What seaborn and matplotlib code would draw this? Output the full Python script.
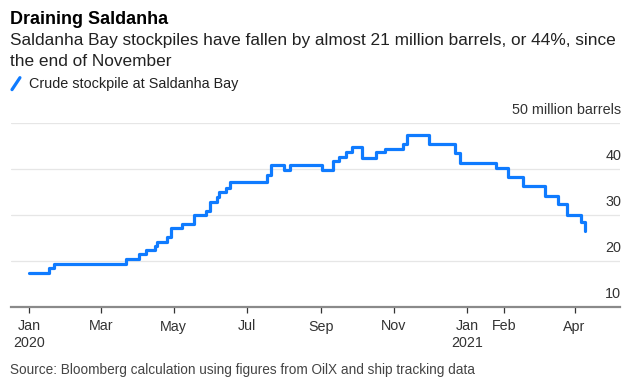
import pandas as pd
import numpy as np
import matplotlib
matplotlib.use("Agg")
import matplotlib.pyplot as plt
import matplotlib.transforms as mtransforms
from matplotlib.lines import Line2D
from matplotlib.legend_handler import HandlerBase
import seaborn as sns

# Stockpile steps (million barrels)
dates = ["2020-01-01", "2020-01-18", "2020-01-22", "2020-03-22", "2020-04-02",
         "2020-04-08", "2020-04-15", "2020-04-17", "2020-04-25", "2020-04-29",
         "2020-05-08", "2020-05-18", "2020-05-28", "2020-05-31", "2020-06-06",
         "2020-06-08", "2020-06-14", "2020-06-17", "2020-07-18", "2020-07-21",
         "2020-08-01", "2020-08-06", "2020-09-02", "2020-09-11", "2020-09-16",
         "2020-09-22", "2020-09-27", "2020-10-05", "2020-10-17", "2020-10-25",
         "2020-11-09", "2020-11-12", "2020-11-30", "2020-12-22", "2020-12-26",
         "2021-01-25", "2021-02-04", "2021-02-17", "2021-03-07", "2021-03-18",
         "2021-03-26", "2021-04-06", "2021-04-10"]
stockpile = [17.5, 18.5, 19.4, 20.4, 21.5,
             22.3, 23.3, 24.2, 25.3, 27.1,
             28.1, 30.1, 30.9, 32.9, 34.0,
             35.1, 35.9, 37.2, 38.7, 40.9,
             39.8, 40.9, 39.8, 41.7, 42.7,
             43.8, 44.7, 42.5, 43.6, 44.3,
             45.4, 47.4, 45.4, 43.4, 41.2,
             40.3, 38.3, 36.2, 34.2, 32.3,
             30.0, 28.5, 26.5]

tick_dates = ["2020-01-01", "2020-03-01", "2020-05-01", "2020-07-01", "2020-09-01",
              "2020-11-01", "2021-01-01", "2021-02-01", "2021-04-01"]
tick_labels = ["Jan\n2020", "Mar", "May", "Jul", "Sep", "Nov", "Jan\n2021", "Feb", "Apr"]
y_ticks = [10, 20, 30, 40, 50]
y_labels = ["10", "20", "30", "40", "50 million barrels"]

df = pd.DataFrame({"date": pd.to_datetime(dates), "stockpile": stockpile})

sns.set_theme(style="white")
plt.rcParams["font.family"] = ["Liberation Sans", "DejaVu Sans"]

W, H = 643, 387
fig = plt.figure(figsize=(W / 100, H / 100), dpi=100)
ax = fig.add_axes([11 / W, 1 - 307 / H, 609 / W, 184 / H])

blue = "#0f7bff"
sns.lineplot(data=df, x="date", y="stockpile", ax=ax, color=blue, linewidth=2.3,
             drawstyle="steps-post", label="Crude stockpile at Saldanha Bay",
             legend=False)

ax.set_xlim(pd.Timestamp("2019-12-17"), pd.Timestamp("2021-05-09"))
ax.set_ylim(10, 50)
ax.set_xlabel("")
ax.set_ylabel("")

# gridlines
for v in y_ticks[1:]:
    ax.axhline(v, color="#e6e6e6", linewidth=0.9, zorder=0)

for s in ["top", "left", "right"]:
    ax.spines[s].set_visible(False)
ax.spines["bottom"].set_color("#8a8a8a")
ax.spines["bottom"].set_linewidth(1.6)

ax.set_xticks(pd.to_datetime(tick_dates))
ax.set_xticklabels(tick_labels, fontsize=10.3, color="#333333", linespacing=1.25)
ax.tick_params(axis="x", direction="out", length=4, width=0.9, color="#333333", pad=5,
               bottom=True)
ax.set_yticks([])

# y labels sit above their gridlines on the right
trans = mtransforms.blended_transform_factory(ax.transAxes, ax.transData)
trans = mtransforms.offset_copy(trans, fig=fig, x=1, y=9, units="dots")
for v, lab in zip(y_ticks, y_labels):
    ax.text(1.0, v, lab, transform=trans, ha="right", va="baseline",
            fontsize=10.4, color="#333333")

# titles
fig.text(10 / W, 1 - 23.5 / H, "Draining Saldanha", fontsize=13, fontweight="bold",
         color="#000000", va="baseline")
fig.text(10 / W, 1 - 44.5 / H,
         "Saldanha Bay stockpiles have fallen by almost 21 million barrels, or 44%, since",
         fontsize=12.4, color="#222222", va="baseline")
fig.text(10 / W, 1 - 66 / H, "the end of November",
         fontsize=12.4, color="#222222", va="baseline")


class SlashHandler(HandlerBase):
    def create_artists(self, legend, orig_handle, xdescent, ydescent, width, height,
                       fontsize, trans):
        line = Line2D([-xdescent, -xdescent + width], [-ydescent - 1, -ydescent + height],
                      color=orig_handle.get_color(), linewidth=2.3, transform=trans)
        return [line]


handles, labels = ax.get_legend_handles_labels()
fig.legend(handles, labels, handler_map={Line2D: SlashHandler()},
           loc="upper left", bbox_to_anchor=(12 / W, 1 - 77 / H), frameon=False,
           borderpad=0, borderaxespad=0, handlelength=0.55, handleheight=0.75,
           handletextpad=0.65, fontsize=10.4, labelcolor="#222222")

fig.text(10 / W, 1 - 374 / H,
         "Source: Bloomberg calculation using figures from OilX and ship tracking data",
         fontsize=9.8, color="#444444", va="baseline")

fig.savefig("out.png", dpi=100)
